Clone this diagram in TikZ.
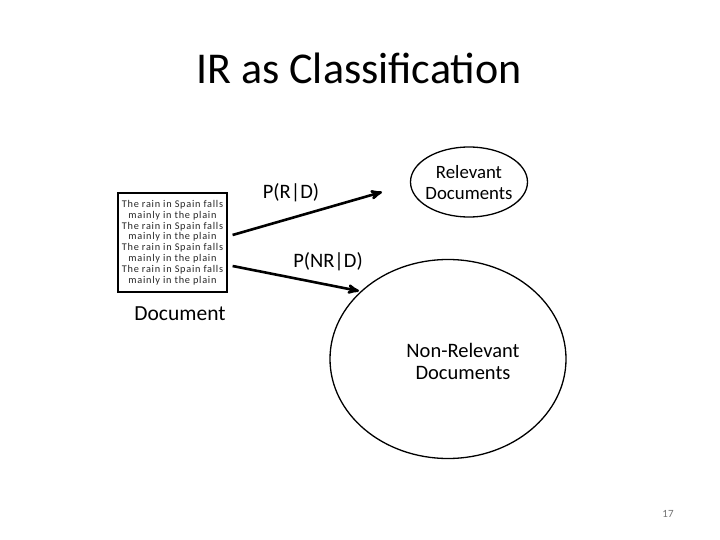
\documentclass[tikz,border=0pt]{standalone}
\usepackage{fontspec}
\setmainfont{Carlito}
\newfontfamily\docfont[LetterSpace=7]{Carlito}
\usetikzlibrary{shapes.geometric,arrows,calc,positioning}

\begin{document}
\begin{tikzpicture}[x=1pt,y=-1pt,
	  every node/.style={align=center,inner sep=0pt},
	  title/.style={font=\fontsize{44}{52}\selectfont},
	  docbox/.style={draw,line width=1.2pt,minimum width=109pt,minimum height=99pt,text=black!85,font=\docfont\fontsize{10.3}{10.8}\selectfont},
	  caption/.style={font=\fontsize{21.5}{25}\selectfont},
	  class/.style={draw,line width=1.3pt,ellipse},
	  classtext/.style={font=\fontsize{18.8}{21}\selectfont},
	  prob/.style={font=\fontsize{20.5}{24}\selectfont},
	  to/.style={-stealth',shorten >=0pt,draw=black,line width=2.6pt}]

	  % page frame
	  \useasboundingbox (0,0) rectangle (720,540);

	  % title
	  \node[title] (title) at (359,68) {IR as Classification};

	  % the document and its caption
	  \node[docbox] (doc) at (172.5,242.5) {The rain in Spain falls\\mainly in the plain\\The rain in Spain falls\\mainly in the plain\\The rain in Spain falls\\mainly in the plain\\The rain in Spain falls\\mainly in the plain};
	  \node[caption] (doclabel) at (180,314) {Document};

	  % the two classes
	  \node[class,minimum width=117pt,minimum height=70pt] (rel) at (469,182) {};
	  \node[classtext] (reltext) at (469,183) {Relevant\\Documents};
	  \node[class,minimum width=236pt,minimum height=199pt] (nonrel) at (448,359) {};
	  \node[classtext,font=\fontsize{20.5}{22}\selectfont] (nonreltext) at (463,361) {Non-Relevant\\Documents};

	  % arrow ends
	  \coordinate (relin) at (382,192);
	  \coordinate (nonrelin) at (359,291);

	  % classification arrows
	  \draw[to] ([xshift=5pt,yshift=7.5pt]doc.east) -- (relin);
	  \draw[to] ([xshift=5pt,yshift=-23.5pt]doc.east) -- (nonrelin);
	  \node[prob] (prd) at (291,193) {P(R|D)};
	  \node[prob] (pnrd) at (328,262) {P(NR|D)};

	  % slide number
	  \node[text=black!55,font=\fontsize{11}{13}\selectfont] (page) at (668,514) {17};
\end{tikzpicture}
\end{document}
